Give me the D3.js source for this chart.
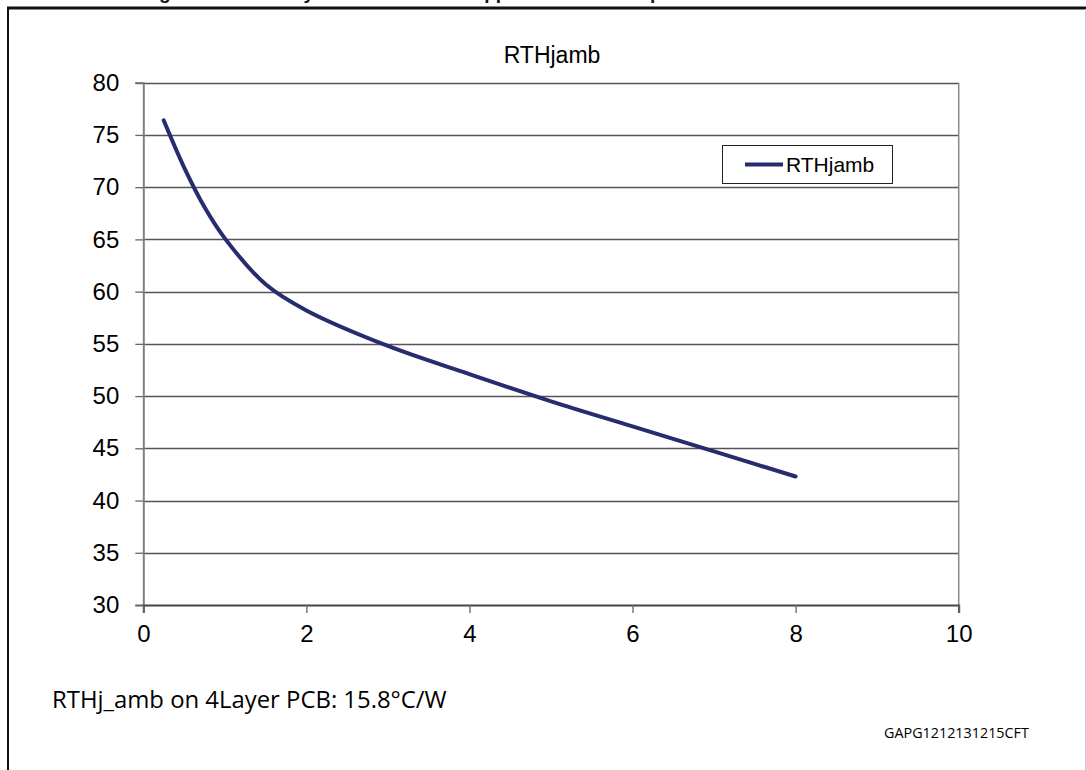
<!DOCTYPE html>
<html><head><meta charset="utf-8">
<script src="https://cdn.jsdelivr.net/npm/d3@7"></script>
<style>html,body{margin:0;padding:0;background:#fff;overflow:hidden}</style>
</head><body>
<script>
// ---- data ----
const seriesName = "RTHjamb";
const xValues = [0.25, 0.5, 0.75, 1, 1.5, 2, 3, 4, 5, 6, 7, 8];
const yValues = [76.4, 71.9, 68.1, 65.1, 60.7, 58.2, 54.8, 52.1, 49.5, 47.1, 44.7, 42.3];
const xTicks = [0, 2, 4, 6, 8, 10];
const yTicks = [30, 35, 40, 45, 50, 55, 60, 65, 70, 75, 80];
const titleText = "RTHjamb";
const noteText = "RTHj_amb on 4Layer PCB: 15.8°C/W";
const codeText = "GAPG1212131215CFT";

const W = 1086, H = 770;
const svg = d3.select("body").append("svg").attr("width", W).attr("height", H);

// cut-off caption above the frame (only descenders visible, as in the reference)
const cap = svg.append("text").attr("y", -1).attr("font-family", "Liberation Sans, Arial, sans-serif")
  .attr("font-weight", "bold").attr("font-size", 19).attr("fill", "#111");
cap.append("tspan").attr("x", 142).text("Figure 9.");
cap.append("tspan").attr("x", 292).text("by");
cap.append("tspan").attr("x", 462).text("copper");
cap.append("tspan").attr("x", 632).text("top");

// outer frame
svg.append("line").attr("x1", 7).attr("x2", 1086).attr("y1", 8).attr("y2", 8).attr("stroke", "#111").attr("stroke-width", 3);
svg.append("line").attr("x1", 8).attr("x2", 8).attr("y1", 7).attr("y2", H).attr("stroke", "#111").attr("stroke-width", 2);
svg.append("line").attr("x1", 1085.5).attr("x2", 1085.5).attr("y1", 9).attr("y2", H).attr("stroke", "#ccc").attr("stroke-width", 1);

const x = d3.scaleLinear().domain([0, 10]).range([143.3, 958.7]);
const y = d3.scaleLinear().domain([30, 80]).range([605, 82.7]);

// gridlines
svg.append("g").selectAll("line").data(yTicks.filter(d => d > 30)).join("line")
  .attr("x1", x(0)).attr("x2", x(10)).attr("y1", d => Math.round(y(d)) + 0.5).attr("y2", d => Math.round(y(d)) + 0.5)
  .attr("stroke", "#555").attr("stroke-width", 1.3);

// plot border right
svg.append("line").attr("x1", x(10)).attr("x2", x(10)).attr("y1", y(80)).attr("y2", y(30) + 8)
  .attr("stroke", "#888").attr("stroke-width", 1.5);

// y axis
const yAxis = d3.axisLeft(y).tickValues(yTicks).tickSize(8).tickPadding(16);
const gy = svg.append("g").attr("transform", `translate(${x(0)},0)`).call(yAxis);
gy.select(".domain").attr("stroke", "#808080").attr("stroke-width", 2);
gy.selectAll(".tick line").attr("stroke", "#666").attr("stroke-width", 1.3);
gy.selectAll(".tick text").attr("font-family", "Liberation Sans, Arial, sans-serif").attr("font-size", 24).attr("fill", "#000");

// x axis
const xAxis = d3.axisBottom(x).tickValues(xTicks).tickSize(8).tickPadding(12).tickFormat(d3.format("d"));
const gx = svg.append("g").attr("transform", `translate(0,${y(30)})`).call(xAxis);
gx.select(".domain").attr("stroke", "#444").attr("stroke-width", 2);
gx.selectAll(".tick line").attr("stroke", "#666").attr("stroke-width", 1.3);
gx.selectAll(".tick text").attr("font-family", "Liberation Sans, Arial, sans-serif").attr("font-size", 24).attr("fill", "#000");

// series line
const pts = xValues.map((v, i) => [v, yValues[i]]);
svg.append("path").datum(pts)
  .attr("d", d3.line().x(d => x(d[0])).y(d => y(d[1])).curve(d3.curveCatmullRom.alpha(0.5)))
  .attr("fill", "none").attr("stroke", "#262d6e").attr("stroke-width", 4).attr("stroke-linecap", "round");

// title
svg.append("text").attr("x", 552).attr("y", 63).attr("text-anchor", "middle")
  .attr("font-family", "Liberation Sans Narrow, Arial Narrow, Liberation Sans, sans-serif").attr("font-size", 23).attr("fill", "#000").text(titleText);

// legend
const lg = svg.append("g");
lg.append("rect").attr("x", 722.5).attr("y", 145.5).attr("width", 170).attr("height", 38)
  .attr("fill", "#fff").attr("stroke", "#222").attr("stroke-width", 1);
lg.append("line").attr("x1", 745).attr("x2", 783).attr("y1", 164.5).attr("y2", 164.5)
  .attr("stroke", "#262d6e").attr("stroke-width", 4);
lg.append("text").attr("x", 786).attr("y", 172).attr("font-family", "Liberation Sans, Arial, sans-serif")
  .attr("font-size", 21).attr("fill", "#000").text(seriesName);

// notes
const note = svg.append("text").attr("x", 52).attr("y", 708).attr("font-family", "Open Sans, sans-serif")
  .attr("font-size", 22).attr("fill", "#000").text(noteText);
const nw = note.node().getComputedTextLength();
note.attr("font-size", 22 * 395 / nw);
const code = svg.append("text").attr("x", 884).attr("y", 738).attr("font-family", "Open Sans, sans-serif")
  .attr("font-size", 16).attr("fill", "#000").text(codeText);
const cw = code.node().getComputedTextLength();
code.attr("font-size", 16 * 145 / cw);
</script>
</body></html>
